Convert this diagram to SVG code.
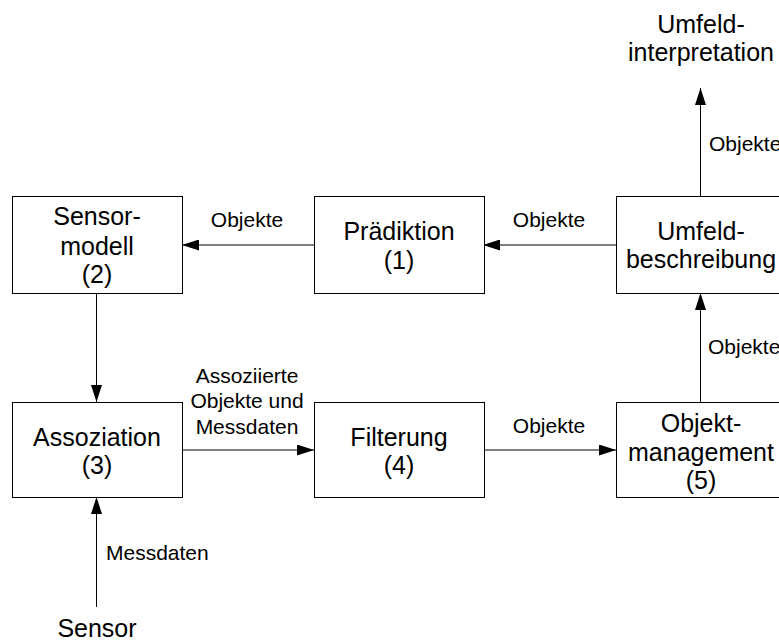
<svg xmlns="http://www.w3.org/2000/svg" width="779" height="641" viewBox="0 0 779 641">
<style>
.box{fill:#fff;stroke:#000;stroke-width:1}
.t{font-family:"Liberation Sans",Arial,sans-serif;font-size:25px;fill:#000;text-anchor:middle}
.l{font-family:"Liberation Sans",Arial,sans-serif;font-size:21px;fill:#000}
.c{stroke:#000;stroke-width:1;fill:none;marker-end:url(#ah)}
</style>
<defs>
<marker id="ah" markerUnits="userSpaceOnUse" markerWidth="17" markerHeight="11" refX="17" refY="5.5" orient="auto">
<path d="M0,0 L17,5.5 L0,11 z" fill="#000"/>
</marker>
</defs>
<rect width="779" height="641" fill="#fff"/>
<g id="connectors">
<line class="c" x1="616" y1="245" x2="483" y2="245"/>
<line class="c" x1="314" y1="245" x2="182" y2="245"/>
<line class="c" x1="96.5" y1="293" x2="96.5" y2="402"/>
<line class="c" x1="182" y1="450" x2="314" y2="450"/>
<line class="c" x1="483" y1="450" x2="616" y2="450"/>
<line class="c" x1="700.5" y1="402" x2="700.5" y2="293"/>
<line class="c" x1="700.5" y1="196" x2="700.5" y2="88"/>
<line class="c" x1="96.5" y1="607" x2="96.5" y2="497"/>
<text class="l" x="247" y="227" text-anchor="middle">Objekte</text>
<text class="l" x="549" y="227" text-anchor="middle">Objekte</text>
<text class="l" x="549" y="433" text-anchor="middle">Objekte</text>
<text class="l" x="709" y="151">Objekte</text>
<text class="l" x="708" y="354">Objekte</text>
<text class="l" x="106" y="560">Messdaten</text>
<text class="l" x="247" y="383" text-anchor="middle">Assoziierte</text>
<text class="l" x="247" y="408" text-anchor="middle">Objekte und</text>
<text class="l" x="247" y="434" text-anchor="middle">Messdaten</text>
</g>
<g id="sensormodell">
<rect class="box" x="12.5" y="196.5" width="170" height="97"/>
<text class="t" x="97" y="225">Sensor-</text>
<text class="t" x="97" y="255">modell</text>
<text class="t" x="97" y="283">(2)</text>
</g>
<g id="praediktion">
<rect class="box" x="314.5" y="196.5" width="170" height="97"/>
<text class="t" x="399" y="240">Prädiktion</text>
<text class="t" x="399" y="269">(1)</text>
</g>
<g id="umfeldbeschreibung">
<rect class="box" x="616.5" y="196.5" width="170" height="97"/>
<text class="t" x="701" y="240">Umfeld-</text>
<text class="t" x="701" y="268">beschreibung</text>
</g>
<g id="assoziation">
<rect class="box" x="12.5" y="402.5" width="170" height="95"/>
<text class="t" x="97" y="446">Assoziation</text>
<text class="t" x="97" y="474">(3)</text>
</g>
<g id="filterung">
<rect class="box" x="314.5" y="402.5" width="170" height="95"/>
<text class="t" x="399" y="446">Filterung</text>
<text class="t" x="399" y="474">(4)</text>
</g>
<g id="objektmanagement">
<rect class="box" x="616.5" y="402.5" width="170" height="95"/>
<text class="t" x="701" y="432">Objekt-</text>
<text class="t" x="701" y="461">management</text>
<text class="t" x="701" y="489">(5)</text>
</g>
<g id="umfeldinterpretation">
<text class="t" x="701" y="33">Umfeld-</text>
<text class="t" x="701" y="61">interpretation</text>
</g>
<g id="sensor">
<text class="t" x="97" y="637">Sensor</text>
</g>
</svg>
